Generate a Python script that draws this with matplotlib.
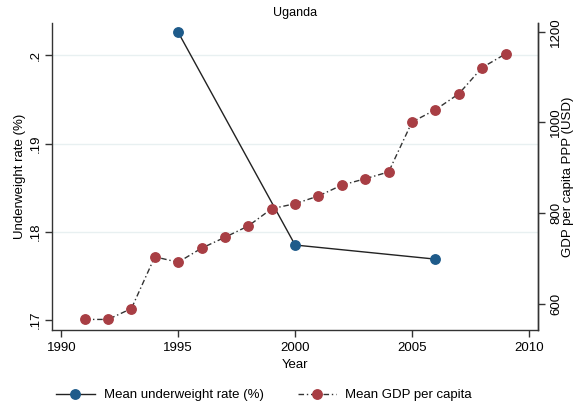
import matplotlib
matplotlib.use("Agg")
import matplotlib.pyplot as plt

plt.rcParams['font.family'] = ['Liberation Sans', 'DejaVu Sans']

uw_years = [1995, 2000, 2006]
uw_rate = [0.2026, 0.1785, 0.1769]

gdp_years = list(range(1991, 2010))
gdp_values = [566, 566, 590, 704, 692, 723, 747, 772, 810, 821, 838, 862,
              876, 891, 1001, 1028, 1063, 1121, 1151]

x_ticks = [1990, 1995, 2000, 2005, 2010]
left_ticks = [0.17, 0.18, 0.19, 0.20]
left_labels = ['.17', '.18', '.19', '.2']
right_ticks = [600, 800, 1000, 1200]

blue = '#1e5b8a'
red = '#a83e44'
grid_c = '#e8f0f1'

fig = plt.figure(figsize=(5.73, 4.16), dpi=100)
ax = fig.add_axes([0.0902, 0.2067, 0.8492, 0.7373])
ax2 = ax.twinx()

for t in left_ticks[1:]:
    ax.axhline(t, color=grid_c, lw=1.0, zorder=0)

l1, = ax.plot(uw_years, uw_rate, color='#222222', lw=1.0, marker='o',
              markersize=6.8, markerfacecolor=blue, markeredgecolor=blue,
              zorder=3, label='Mean underweight rate (%)')
l2, = ax2.plot(gdp_years, gdp_values, color='#333333', lw=1.0,
               linestyle=(0, (4, 2, 1, 2)), marker='o', markersize=6.8,
               markerfacecolor=red, markeredgecolor=red, zorder=3,
               label='Mean GDP per capita')

ax.set_xlim(1989.59, 2010.4)
ax.set_ylim(0.16887, 0.20362)
ax2.set_ylim(542.7, 1218.5)

ax.set_xticks(x_ticks)
ax.set_yticks(left_ticks)
ax.set_yticklabels(left_labels, rotation=90, va='center')
ax2.set_yticks(right_ticks)
ax2.set_yticklabels([str(v) for v in right_ticks], rotation=90, va='center')

for a in (ax, ax2):
    a.spines['top'].set_visible(False)
    for s in ('left', 'bottom', 'right'):
        a.spines[s].set_color('#333333')
        a.spines[s].set_linewidth(1.0)
    a.tick_params(colors='#333333', labelcolor='black', labelsize=9.5,
                  length=5, width=1.0)
ax.tick_params(axis='y', pad=2)

ax2.spines['left'].set_visible(False)
ax2.spines['bottom'].set_visible(False)

ax.set_xlabel('Year', fontsize=9.5, labelpad=4)
ax.set_ylabel('Underweight rate (%)', fontsize=9.5, labelpad=3)
ax2.set_ylabel('GDP per capita PPP (USD)', fontsize=9.5, labelpad=0)

fig.text(0.515, 0.968, 'Uganda', ha='center', va='center', fontsize=9)

fig.legend(handles=[l1, l2], loc='center', bbox_to_anchor=(0.461, 0.05),
           ncol=2, frameon=False, fontsize=9.5, handlelength=2.9,
           columnspacing=2.6, handletextpad=0.7)

fig.savefig('out.png', dpi=100)
